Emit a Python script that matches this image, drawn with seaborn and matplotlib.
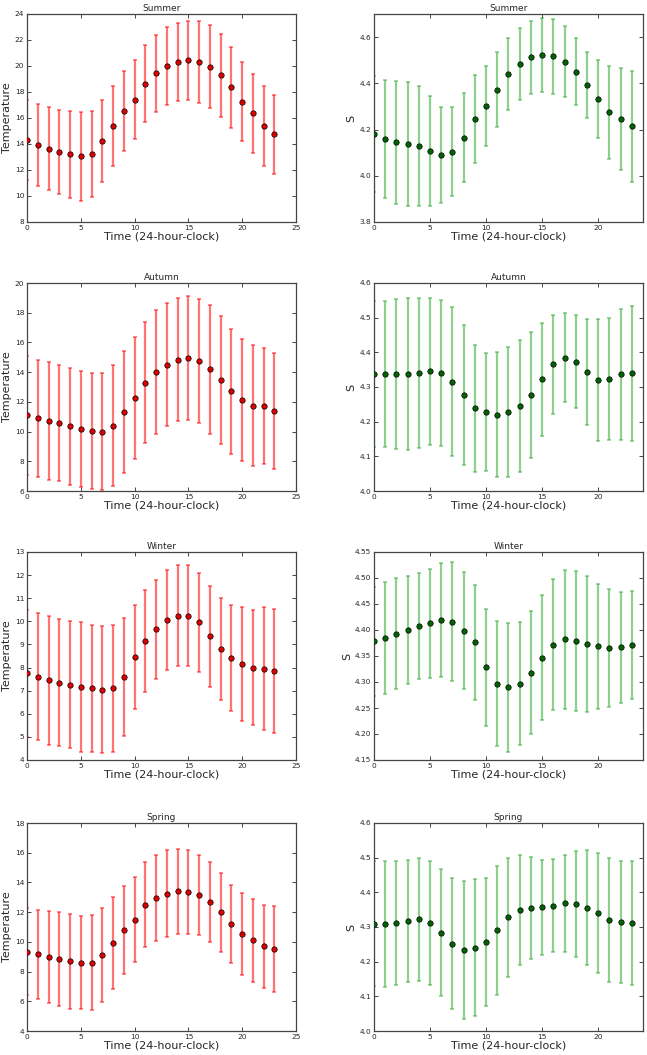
import numpy as np
import pandas as pd
import matplotlib
matplotlib.use("Agg")
import matplotlib.pyplot as plt
import seaborn as sns

hours = list(range(24))
seasons = ["Summer", "Autumn", "Winter", "Spring"]

summer_temp = [14.3, 13.95, 13.65, 13.4, 13.2, 13.05, 13.25, 14.2, 15.4, 16.55, 17.4, 18.65,
               19.45, 20.0, 20.3, 20.45, 20.3, 19.95, 19.3, 18.35, 17.25, 16.35, 15.4, 14.75]
summer_temp_err = [3.1, 3.15, 3.2, 3.25, 3.35, 3.4, 3.3, 3.15, 3.1, 3.1, 3.05, 2.95,
                   2.95, 3.0, 3.0, 3.05, 3.15, 3.2, 3.2, 3.15, 3.05, 3.05, 3.1, 3.05]
summer_s = [4.18, 4.16, 4.145, 4.137, 4.13, 4.107, 4.09, 4.105, 4.165, 4.245, 4.303, 4.373,
            4.44, 4.484, 4.512, 4.522, 4.517, 4.493, 4.451, 4.392, 4.332, 4.275, 4.246, 4.215]
summer_s_err = [0.25, 0.255, 0.265, 0.268, 0.26, 0.238, 0.208, 0.191, 0.193, 0.191, 0.172, 0.162,
                0.155, 0.156, 0.158, 0.161, 0.163, 0.154, 0.144, 0.143, 0.168, 0.202, 0.222, 0.24]

autumn_temp = [11.1, 10.9, 10.7, 10.55, 10.35, 10.2, 10.05, 10.0, 10.4, 11.3, 12.25, 13.3,
               14.0, 14.5, 14.85, 14.95, 14.75, 14.2, 13.45, 12.7, 12.15, 11.75, 11.7, 11.4]
autumn_temp_err = [4.0, 3.95, 3.95, 3.9, 3.95, 3.9, 3.9, 3.95, 4.05, 4.1, 4.1, 4.05,
                   4.15, 4.15, 4.15, 4.15, 4.2, 4.35, 4.3, 4.2, 4.1, 4.05, 3.9, 3.9]
autumn_s = [4.338, 4.337, 4.337, 4.338, 4.341, 4.345, 4.34, 4.315, 4.277, 4.239, 4.228, 4.22,
            4.228, 4.246, 4.278, 4.322, 4.365, 4.385, 4.373, 4.343, 4.32, 4.322, 4.337, 4.339]
autumn_s_err = [0.21, 0.21, 0.217, 0.22, 0.217, 0.212, 0.211, 0.215, 0.203, 0.183, 0.169, 0.18,
                0.187, 0.19, 0.182, 0.163, 0.142, 0.129, 0.135, 0.154, 0.177, 0.176, 0.189, 0.196]

winter_temp = [7.75, 7.6, 7.45, 7.35, 7.25, 7.15, 7.1, 7.05, 7.1, 7.6, 8.45, 9.15,
               9.65, 10.05, 10.25, 10.25, 9.95, 9.35, 8.8, 8.4, 8.15, 8.0, 7.95, 7.85]
winter_temp_err = [2.75, 2.75, 2.8, 2.75, 2.75, 2.8, 2.75, 2.75, 2.75, 2.55, 2.25, 2.2,
                   2.15, 2.15, 2.2, 2.2, 2.15, 2.2, 2.2, 2.3, 2.45, 2.5, 2.65, 2.7]
winter_s = [4.378, 4.385, 4.393, 4.4, 4.407, 4.413, 4.419, 4.416, 4.399, 4.376, 4.328, 4.297,
            4.29, 4.297, 4.318, 4.347, 4.372, 4.382, 4.379, 4.373, 4.369, 4.365, 4.367, 4.371]
winter_s_err = [0.105, 0.108, 0.107, 0.103, 0.102, 0.105, 0.11, 0.114, 0.113, 0.11, 0.112, 0.121,
                0.124, 0.119, 0.118, 0.12, 0.126, 0.133, 0.135, 0.13, 0.12, 0.113, 0.107, 0.104]

spring_temp = [9.35, 9.15, 9.0, 8.85, 8.7, 8.6, 8.6, 9.1, 9.9, 10.8, 11.5, 12.5,
               12.95, 13.25, 13.4, 13.35, 13.15, 12.7, 12.0, 11.2, 10.55, 10.1, 9.7, 9.5]
spring_temp_err = [2.9, 3.0, 3.1, 3.15, 3.2, 3.15, 3.2, 3.15, 3.1, 2.95, 2.85, 2.85,
                   2.9, 2.9, 2.85, 2.8, 2.7, 2.7, 2.65, 2.65, 2.75, 2.8, 2.8, 2.9]
spring_s = [4.31, 4.309, 4.312, 4.317, 4.322, 4.312, 4.284, 4.252, 4.234, 4.24, 4.257, 4.29,
            4.328, 4.35, 4.355, 4.357, 4.361, 4.368, 4.366, 4.356, 4.34, 4.32, 4.314, 4.311]
spring_s_err = [0.18, 0.181, 0.179, 0.177, 0.178, 0.179, 0.183, 0.189, 0.199, 0.198, 0.184, 0.186,
                0.172, 0.159, 0.147, 0.137, 0.134, 0.14, 0.153, 0.165, 0.173, 0.18, 0.176, 0.179]

temp_ylims = [(8, 24), (6, 20), (4, 13), (4, 18)]
s_ylims = [(3.8, 4.7), (4.0, 4.6), (4.15, 4.55), (4.0, 4.6)]

temps = [(summer_temp, summer_temp_err), (autumn_temp, autumn_temp_err),
         (winter_temp, winter_temp_err), (spring_temp, spring_temp_err)]
sals = [(summer_s, summer_s_err), (autumn_s, autumn_s_err),
        (winter_s, winter_s_err), (spring_s, spring_s_err)]

sns.set_style("ticks", {"xtick.direction": "in", "ytick.direction": "in"})
plt.rcParams["font.family"] = ["DejaVu Sans"]

W, H = 647, 1055
fig = plt.figure(figsize=(W / 100, H / 100), dpi=100)

tops = [14, 283, 552, 823]
ax_h = 208
left_x = (27, 296)
right_x = (374, 643)


def make_ax(x0, x1, top):
    return fig.add_axes([x0 / W, 1 - (top + ax_h) / H, (x1 - x0) / W, ax_h / H])


def draw(ax, means, errs, ecolor, mcolor, ylabel, ylim, xlim, xticks, title):
    df = pd.DataFrame({"hour": hours, "value": means, "err": errs})
    ax.errorbar(df["hour"], df["value"], yerr=df["err"], fmt="none",
                ecolor=ecolor, alpha=0.55, elinewidth=1.6, capsize=1.6, capthick=1.2,
                zorder=2)
    sns.scatterplot(data=df, x="hour", y="value", ax=ax, color=mcolor,
                    edgecolor="black", linewidth=0.5, s=15, zorder=3)
    for coll in ax.collections:
        coll.set_clip_on(True)
        coll.set_clip_path(ax.patch)
    ax.set_xlim(*xlim)
    ax.set_ylim(*ylim)
    ax.set_xticks(xticks)
    ax.set_title(title, fontsize=6.5, pad=2)
    ax.set_xlabel("Time (24-hour-clock)", fontsize=8, labelpad=0.5)
    ax.set_ylabel(ylabel, fontsize=8, labelpad=2)
    ax.tick_params(labelsize=5.3, length=3, width=0.6, pad=2,
                   top=True, right=True, direction="in")
    for sp in ax.spines.values():
        sp.set_visible(True)
        sp.set_linewidth(0.9)
        sp.set_color("#444444")


for i, season in enumerate(seasons):
    axl = make_ax(*left_x, tops[i])
    m, e = temps[i]
    draw(axl, m, e, "red", "#e00000", "Temperature", temp_ylims[i], (0, 25),
         [0, 5, 10, 15, 20, 25], season)
    axr = make_ax(*right_x, tops[i])
    m, e = sals[i]
    draw(axr, m, e, "#33aa33", "#006400", "S", s_ylims[i], (0, 24),
         [0, 5, 10, 15, 20], season)

fig.savefig("out.png", dpi=100)
